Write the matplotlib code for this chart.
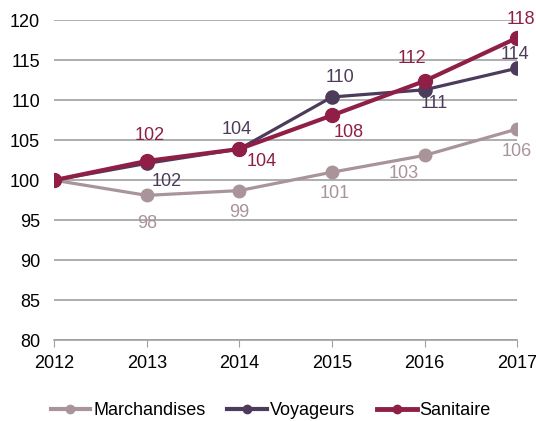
import matplotlib
matplotlib.use("Agg")
import matplotlib.pyplot as plt
from matplotlib.lines import Line2D

years = [2012, 2013, 2014, 2015, 2016, 2017]
marchandises = [100, 98.1, 98.7, 101.0, 103.1, 106.4]
voyageurs = [100, 102.1, 103.9, 110.4, 111.3, 114.0]
sanitaire = [100, 102.4, 103.9, 108.1, 112.4, 117.8]
yticks = [80, 85, 90, 95, 100, 105, 110, 115, 120]
names = ['Marchandises', 'Voyageurs', 'Sanitaire']

c_m = "#A89499"
c_v = "#4D3B5C"
c_s = "#8F1F46"

plt.rcParams['font.family'] = ['Liberation Sans', 'DejaVu Sans']
fig = plt.figure(figsize=(5.36, 4.21), dpi=100)
ax = fig.add_axes([0.101, 0.192, 0.864, 0.760])

ax.plot(years, marchandises, color=c_m, lw=2.3, marker='o', ms=9, zorder=3)
ax.plot(years, voyageurs, color=c_v, lw=2.3, marker='o', ms=9.5, zorder=4)
ax.plot(years, sanitaire, color=c_s, lw=3.0, marker='o', ms=10, zorder=5)

# label offsets (points): dx, dy
off_m = [None, (0, -20), (0, -16), (2, -15), (-15, -13), (0, -16)]
off_v = [None, (14, -13), (-2, 14), (6, 14), (7, -10), (-2, 10)]
off_s = [None, (2, 18), (16, -9), (12, -12), (-9, 16), (3, 13)]
for vals, offs, col in [(marchandises, off_m, c_m), (voyageurs, off_v, c_v), (sanitaire, off_s, c_s)]:
    for x, y, o in zip(years, vals, offs):
        if o is None:
            continue
        ax.annotate(f"{round(y):d}", (x, y), xytext=o, textcoords='offset points',
                    ha='center', va='center', color=col, fontsize=13, zorder=6)

ax.set_xlim(2012, 2017)
ax.set_ylim(80, 120)
ax.set_yticks(yticks)
ax.set_xticks(years)
ax.yaxis.grid(True, color='#A0A0A0', lw=1.2)
ax.set_axisbelow(True)
for s in ['top', 'right', 'left']:
    ax.spines[s].set_visible(False)
ax.spines['bottom'].set_color('#A0A0A0')
ax.spines['bottom'].set_linewidth(1.2)
ax.tick_params(axis='y', length=0, labelsize=13, pad=10)
ax.tick_params(axis='x', direction='out', length=5, color='#A0A0A0', labelsize=13, pad=6)

handles = [Line2D([], [], color=c, lw=lw, marker='o', ms=6) for c, lw in
           [(c_m, 3), (c_v, 3), (c_s, 3.5)]]
fig.legend(handles, names, loc='center', bbox_to_anchor=(0.505, 0.024), ncol=3, frameon=False,
           fontsize=13, handlelength=2.2, handletextpad=0.17, columnspacing=1.2)
fig.savefig("out.png", dpi=100)
